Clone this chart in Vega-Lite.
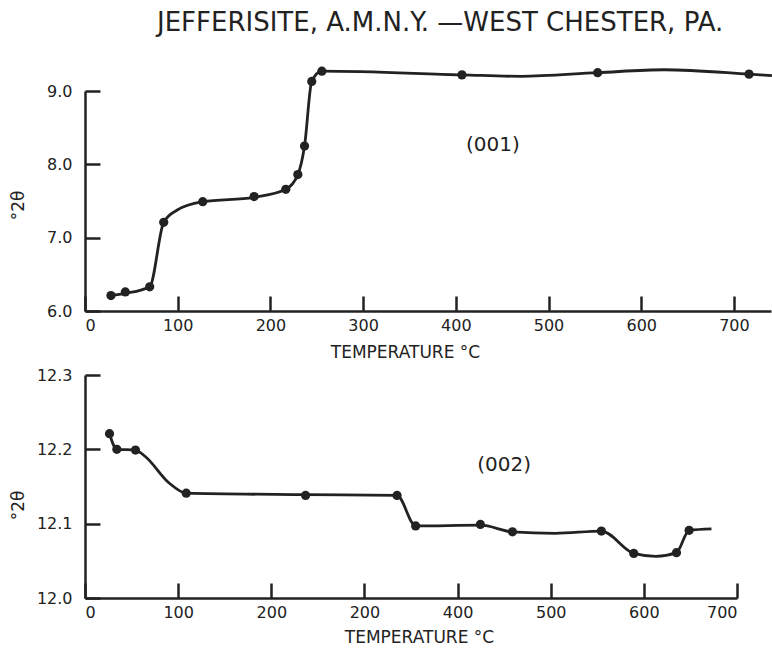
{
  "$schema": "https://vega.github.io/schema/vega-lite/v6.json",
  "padding": {"left": 9, "top": 10, "right": 0, "bottom": 0},
  "background": "white",
  "spacing": 7,
  "title": {
    "text": "JEFFERISITE, A.M.N.Y. —WEST CHESTER, PA.",
    "anchor": "start",
    "frame": "group",
    "dx": 72,
    "offset": 28,
    "font": "DejaVu Sans",
    "fontSize": 26,
    "fontWeight": "normal",
    "color": "#222222"
  },
  "config": {
    "view": {"stroke": null},
    "axis": {
      "grid": false,
      "ticks": true,
      "domainColor": "#222222",
      "domainWidth": 2.5,
      "tickColor": "#222222",
      "tickWidth": 2.5,
      "labelFont": "DejaVu Sans",
      "labelFontSize": 16,
      "labelColor": "#222222",
      "titleFont": "DejaVu Sans",
      "titleFontSize": 17,
      "titleFontWeight": "normal",
      "titleColor": "#222222"
    }
  },
  "datasets": {
    "top_pts": [
      {"t": 28, "v": 6.21}, {"t": 43.5, "v": 6.26}, {"t": 69.8, "v": 6.33},
      {"t": 84.9, "v": 7.21}, {"t": 127, "v": 7.49}, {"t": 182.4, "v": 7.56},
      {"t": 216.6, "v": 7.66}, {"t": 229.6, "v": 7.86}, {"t": 236.8, "v": 8.25},
      {"t": 244.6, "v": 9.13}, {"t": 255.5, "v": 9.27}, {"t": 406.6, "v": 9.22},
      {"t": 553, "v": 9.25}, {"t": 716.3, "v": 9.23}
    ],
    "top_curve": [
      {"t": 28, "v": 6.21}, {"t": 43.5, "v": 6.24}, {"t": 69.8, "v": 6.33},
      {"t": 84.9, "v": 7.21}, {"t": 100, "v": 7.38}, {"t": 127, "v": 7.49}, {"t": 182.4, "v": 7.55},
      {"t": 216.6, "v": 7.66}, {"t": 229.6, "v": 7.86}, {"t": 236.8, "v": 8.25},
      {"t": 244.6, "v": 9.13}, {"t": 255.5, "v": 9.27}, {"t": 406.6, "v": 9.22},
      {"t": 470, "v": 9.2}, {"t": 553, "v": 9.25}, {"t": 625, "v": 9.29},
      {"t": 716.3, "v": 9.23}, {"t": 741, "v": 9.21}
    ],
    "bot_pts": [
      {"t": 26.3, "v": 12.221}, {"t": 34.2, "v": 12.2}, {"t": 54.2, "v": 12.199},
      {"t": 108.7, "v": 12.141}, {"t": 236.8, "v": 12.138}, {"t": 335, "v": 12.138},
      {"t": 355, "v": 12.097}, {"t": 424.5, "v": 12.099}, {"t": 458.9, "v": 12.089},
      {"t": 554.4, "v": 12.09}, {"t": 589.2, "v": 12.06}, {"t": 635, "v": 12.061},
      {"t": 648.6, "v": 12.091}
    ],
    "bot_curve": [
      {"t": 26.3, "v": 12.221}, {"t": 34.2, "v": 12.2}, {"t": 54.2, "v": 12.199},
      {"t": 65, "v": 12.19}, {"t": 90, "v": 12.155},
      {"t": 108.7, "v": 12.141}, {"t": 236.8, "v": 12.139}, {"t": 335, "v": 12.138},
      {"t": 355, "v": 12.097}, {"t": 424.5, "v": 12.098}, {"t": 458.9, "v": 12.089},
      {"t": 505, "v": 12.087}, {"t": 554.4, "v": 12.09}, {"t": 589.2, "v": 12.06},
      {"t": 613, "v": 12.056}, {"t": 635, "v": 12.061},
      {"t": 648.6, "v": 12.091}, {"t": 672.6, "v": 12.093}
    ]
  },
  "vconcat": [
    {
      "width": 686,
      "height": 220,
      "layer": [
        {
          "data": {"name": "top_curve"},
          "mark": {"type": "line", "interpolate": "monotone", "color": "#222222", "strokeWidth": 2.8},
          "encoding": {
            "x": {"field": "t", "type": "quantitative",
              "scale": {"domain": [0, 740], "nice": false},
              "axis": {"values": [0, 100, 200, 300, 400, 500, 600, 700], "tickSize": -15, "labelPadding": 21, "title": "TEMPERATURE °C", "titleX": 320, "titleY": 33}},
            "y": {"field": "v", "type": "quantitative",
              "scale": {"domain": [6, 9], "nice": false, "zero": false},
              "axis": {"values": [6, 7, 8, 9], "format": ".1f", "tickSize": -15, "labelPadding": 28, "title": "°2θ", "titleX": -58, "titleY": 114}}
          }
        },
        {
          "data": {"name": "top_pts"},
          "mark": {"type": "point", "filled": true, "color": "#222222", "size": 85, "opacity": 1},
          "encoding": {
            "x": {"field": "t", "type": "quantitative"},
            "y": {"field": "v", "type": "quantitative"}
          }
        },
        {
          "data": {"values": [{"t": 440, "v": 8.27, "label": "(001)"}]},
          "mark": {"type": "text", "font": "DejaVu Sans", "fontSize": 20, "color": "#222222"},
          "encoding": {
            "x": {"field": "t", "type": "quantitative"},
            "y": {"field": "v", "type": "quantitative"},
            "text": {"field": "label"}
          }
        }
      ]
    },
    {
      "width": 652,
      "height": 223,
      "layer": [
        {
          "data": {"name": "bot_curve"},
          "mark": {"type": "line", "interpolate": "monotone", "color": "#222222", "strokeWidth": 2.8},
          "encoding": {
            "x": {"field": "t", "type": "quantitative",
              "scale": {"domain": [0, 700], "nice": false},
              "axis": {"values": [0, 100, 200, 300, 400, 500, 600, 700], "labelExpr": "datum.value == 300 ? '200' : datum.label", "tickSize": -15, "labelPadding": 21, "title": "TEMPERATURE °C", "titleX": 334, "titleY": 31}},
            "y": {"field": "v", "type": "quantitative",
              "scale": {"domain": [12.0, 12.3], "nice": false, "zero": false},
              "axis": {"values": [12.0, 12.1, 12.2, 12.3], "format": ".1f", "tickSize": -15, "labelPadding": 28, "title": "°2θ", "titleX": -58, "titleY": 130}}
          }
        },
        {
          "data": {"name": "bot_pts"},
          "mark": {"type": "point", "filled": true, "color": "#222222", "size": 85, "opacity": 1},
          "encoding": {
            "x": {"field": "t", "type": "quantitative"},
            "y": {"field": "v", "type": "quantitative"}
          }
        },
        {
          "data": {"values": [{"t": 450, "v": 12.179, "label": "(002)"}]},
          "mark": {"type": "text", "font": "DejaVu Sans", "fontSize": 20, "color": "#222222"},
          "encoding": {
            "x": {"field": "t", "type": "quantitative"},
            "y": {"field": "v", "type": "quantitative"},
            "text": {"field": "label"}
          }
        }
      ]
    }
  ]
}
